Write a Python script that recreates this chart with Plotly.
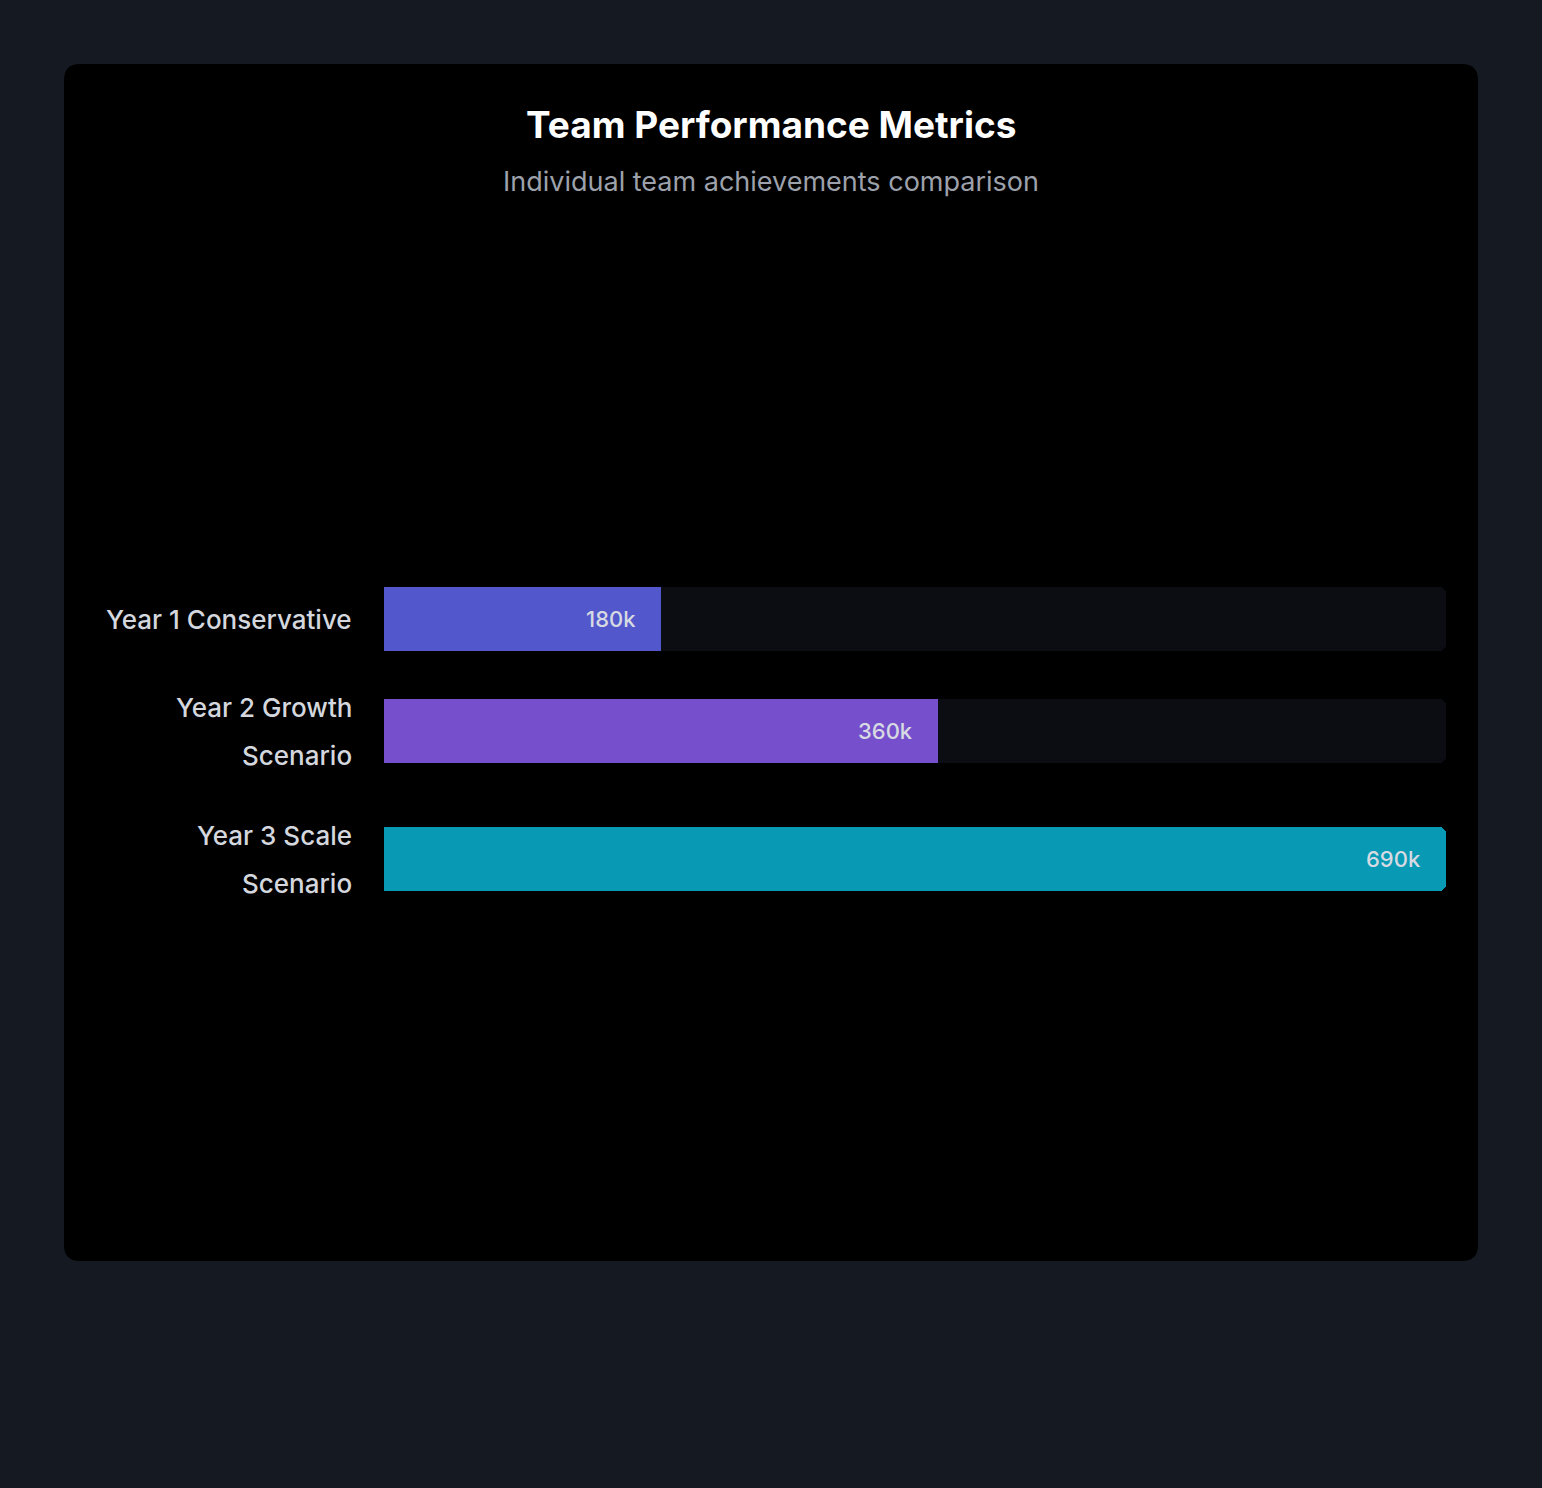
import plotly.graph_objects as go

# ---- data ----
categories = ["Year 1 Conservative", "Year 2 Growth<br>Scenario", "Year 3 Scale<br>Scenario"]
values = [180, 360, 690]           # thousands
value_labels = ["180k", "360k", "690k"]
bar_colors = ["#5258cc", "#7650cc", "#0899b4"]
track_max = 690

title = "Team Performance Metrics"
subtitle = "Individual team achievements comparison"

# ---- layout constants (pixels) ----
W, H = 1542, 1488
PLOT_L, PLOT_R = 384, 1446
ROWS_TOP = 587
BAR_H = 64
LINE_H = 48
ROW_GAP = 32
FONT = "Inter, Lato, sans-serif"

# row centers derived from label line counts (flex-like layout)
centers = []
cur = 0
for c in categories:
    n = c.count("<br>") + 1
    h = max(BAR_H, n * LINE_H)
    centers.append(cur + h / 2)
    cur += h + ROW_GAP
rows_h = cur - ROW_GAP

pad = 28
y_lo, y_hi = -pad, rows_h + pad
PLOT_T = ROWS_TOP - pad
PLOT_B = ROWS_TOP + rows_h + pad
plot_w = PLOT_R - PLOT_L
plot_h = PLOT_B - PLOT_T


def px_x(px):
    return (px - PLOT_L) / plot_w


def px_y(py):
    return (PLOT_B - py) / plot_h


fig = go.Figure()

# tracks
fig.add_trace(go.Bar(
    x=[track_max] * len(categories), y=centers, orientation="h", width=BAR_H,
    marker=dict(color="#0b0d12", cornerradius=7, line=dict(width=0)),
    hoverinfo="skip", showlegend=False,
))
# values
fig.add_trace(go.Bar(
    x=values, y=centers, orientation="h", width=BAR_H,
    marker=dict(color=bar_colors, cornerradius=7, line=dict(width=0)),
    hovertemplate="%{x}k<extra></extra>", showlegend=False,
))

annotations = []
# value labels
for v, lab, yc in zip(values, value_labels, centers):
    annotations.append(dict(
        x=v, y=yc, xref="x", yref="y", text=lab, showarrow=False,
        xanchor="right", yanchor="middle", xshift=-23,
        font=dict(family=FONT, size=22, color="#d6dae2", weight=500),
    ))
# category labels (one annotation per line, 48px line height)
for c, yc in zip(categories, centers):
    lines = c.split("<br>")
    n = len(lines)
    for i, ln in enumerate(lines):
        off = (i - (n - 1) / 2) * LINE_H
        annotations.append(dict(
            x=0, y=yc, xref="paper", yref="y", text=ln, showarrow=False,
            xanchor="right", yanchor="middle", xshift=-30, yshift=-off,
            font=dict(family=FONT, size=26, color="#d4d7de", weight=500),
        ))
# title and subtitle
annotations.append(dict(
    x=px_x(771), y=px_y(124), xref="paper", yref="paper",
    text="<b>" + title + "</b>", showarrow=False, xanchor="center", yanchor="middle",
    font=dict(family=FONT, size=37, color="#ffffff"),
))
annotations.append(dict(
    x=px_x(771), y=px_y(181), xref="paper", yref="paper",
    text=subtitle, showarrow=False, xanchor="center", yanchor="middle",
    font=dict(family=FONT, size=27, color="#9ca1ab"),
))

# card background (rounded rect, paper coords)
cx0, cx1 = px_x(64), px_x(1478)
cy0, cy1 = px_y(1261), px_y(64)
rx, ry = 16 / plot_w, 16 / plot_h
card_path = (
    f"M {cx0+rx},{cy1} L {cx1-rx},{cy1} Q {cx1},{cy1} {cx1},{cy1-ry} "
    f"L {cx1},{cy0+ry} Q {cx1},{cy0} {cx1-rx},{cy0} "
    f"L {cx0+rx},{cy0} Q {cx0},{cy0} {cx0},{cy0+ry} "
    f"L {cx0},{cy1-ry} Q {cx0},{cy1} {cx0+rx},{cy1} Z"
)

fig.update_layout(
    width=W, height=H,
    margin=dict(l=PLOT_L, r=W - PLOT_R, t=PLOT_T, b=H - PLOT_B, pad=0),
    paper_bgcolor="#151a22", plot_bgcolor="rgba(0,0,0,0)",
    barmode="overlay", bargap=0,
    xaxis=dict(range=[0, track_max], visible=False, fixedrange=True),
    yaxis=dict(range=[y_hi, y_lo], visible=False, fixedrange=True),
    shapes=[dict(type="path", path=card_path, xref="paper", yref="paper",
                 fillcolor="#000000", line=dict(width=0), layer="below")],
    annotations=annotations,
    showlegend=False,
)

fig.write_html("out.html", config={"displayModeBar": False})
